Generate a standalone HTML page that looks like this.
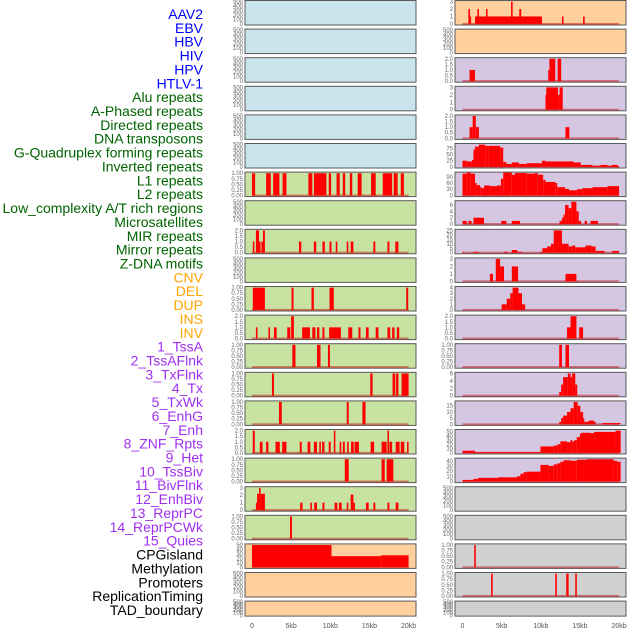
<!DOCTYPE html>
<html><head><meta charset="utf-8"><style>
html,body{margin:0;padding:0;background:#fff;width:630px;height:630px;overflow:hidden}
svg{display:block}
</style></head><body>
<svg id="chart" width="630" height="630" viewBox="0 0 630 630" xmlns="http://www.w3.org/2000/svg"></svg>
<script>
// ---- labels ----
const trackLabels = ["AAV2","EBV","HBV","HIV","HPV","HTLV-1","Alu repeats","A-Phased repeats","Directed repeats","DNA transposons","G-Quadruplex forming repeats","Inverted repeats","L1 repeats","L2 repeats","Low_complexity A/T rich regions","Microsatellites","MIR repeats","Mirror repeats","Z-DNA motifs","CNV","DEL","DUP","INS","INV","1_TssA","2_TssAFlnk","3_TxFlnk","4_Tx","5_TxWk","6_EnhG","7_Enh","8_ZNF_Rpts","9_Het","10_TssBiv","11_BivFlnk","12_EnhBiv","13_ReprPC","14_ReprPCWk","15_Quies","CPGisland","Methylation","Promoters","ReplicationTiming","TAD_boundary"];
const labelColors = ["#0000ff","#0000ff","#0000ff","#0000ff","#0000ff","#0000ff","#006400","#006400","#006400","#006400","#006400","#006400","#006400","#006400","#006400","#006400","#006400","#006400","#006400","#ffa500","#ffa500","#ffa500","#ffa500","#ffa500","#a030f0","#a030f0","#a030f0","#a030f0","#a030f0","#a030f0","#a030f0","#a030f0","#a030f0","#a030f0","#a030f0","#a030f0","#a030f0","#a030f0","#a030f0","#000","#000","#000","#000","#000"];
const xTicks = [0,5,10,15,20];
const xTickLabels = ["0","5kb","10kb","15kb","20kb"];

// ---- panel backgrounds ----
const leftBg = ["b","b","b","b","b","b","g","g","g","g","g","g","g","g","g","g","g","g","g","o","o","o"];
const rightBg = ["o","o","p","p","p","p","p","p","p","p","p","p","p","p","p","p","p","y","y","y","y","y"];
// axis max per panel (0 = empty panel, axis 0..500)
const leftMax = [0,0,0,0,0,0,1,0,2,0,1,2,1,1,1,2,1,3,1,50,0,0];
const rightMax = [3,0,2,3,2,90,107,7,25,3,4,2,1,6,18,52,43,0,0,1,1,0];
const leftTickStep = [100,100,100,100,100,100,0.25,100,0.5,100,0.25,0.5,0.25,0.25,0.25,0.5,0.25,1,0.25,10,100,100];
const rightTickStep = [1,100,0.5,1,0.5,25,30,2,5,1,1,0.5,0.25,2,5,10,10,100,100,0.25,0.25,100];

// ---- left column bars [startKb, endKb, value] ----
const L06 = [[0,0.4,1],[1.8,2.4,1],[2.7,3.5,1],[3.9,4.4,1],[7.2,7.7,1],[7.9,9.5,1],[9.8,10.1,1],[10.8,11.2,1],[11.6,11.9,1],[12.5,12.8,1],[13.5,14.0,1],[15.2,15.8,1],[16.7,17.9,1],[18.1,18.6,1],[19.0,19.4,1]];
const L08 = [[0.1,0.3,1],[0.5,0.9,2],[0.9,1.1,1],[1.2,1.4,1],[1.4,1.65,2],[6.0,6.3,1],[7.9,8.2,1],[9.0,9.3,1],[9.9,10.15,1],[10.7,10.9,1],[12.1,12.3,1],[12.6,12.95,1],[15.5,15.75,1],[17.3,17.55,1],[18.3,18.7,1]];
const L10 = [[0.1,1.65,1],[5.05,5.3,1],[7.6,7.9,1],[9.9,10.45,1],[19.7,19.95,1]];
const L11 = [[0.5,0.7,1],[2.1,2.3,1],[2.8,3.15,1],[4.5,4.9,1],[5.0,5.35,2],[6.4,7.4,1],[7.7,8.1,1],[8.3,8.6,1],[9.0,9.25,1],[9.85,11.35,1],[12.3,12.8,1],[13.6,13.85,1],[14.55,14.9,1],[15.8,16.15,1],[17.3,17.65,1],[17.9,18.2,1],[18.5,18.8,1]];
const L12 = [[5.15,5.55,1],[8.3,8.75,1],[9.7,9.95,1]];
const L13 = [[2.55,2.8,1],[15.1,15.4,1],[17.95,18.3,1],[18.4,18.7,1],[19.1,20.0,1]];
const L14 = [[3.45,3.8,1],[12.1,12.35,1],[14.1,14.5,1]];
const L15 = [[0.1,0.35,2],[1.0,1.35,1],[1.8,2.1,1],[3.0,3.55,1],[3.85,4.4,1],[6.1,6.35,1],[7.1,7.45,1],[7.9,8.3,1],[8.6,8.8,1],[8.95,9.25,1],[9.8,10.05,1],[10.45,10.65,2],[11.2,11.4,1],[11.6,11.85,1],[12.15,12.35,1],[12.65,13.0,1],[13.1,13.65,1],[15.15,15.6,1],[16.55,17.2,1],[17.3,17.5,2],[17.55,17.9,1],[18.35,18.85,1],[19.0,19.45,1],[19.8,20.0,1]];
const L16 = [[11.85,12.35,1],[16.55,16.95,1],[17.2,18.05,1]];
const L17 = [[0.5,0.65,1],[0.65,0.9,2.2],[0.9,1.1,3],[1.1,1.65,2.2],[6.15,6.45,1],[7.45,7.65,1],[7.95,8.3,1],[9.0,9.25,1],[10.55,10.9,1],[11.1,11.45,1],[12.1,12.3,1],[12.6,12.95,2.1],[12.95,13.15,1],[14.55,14.9,1],[15.5,15.75,1],[17.3,17.55,1],[18.35,18.7,1]];
const L18 = [[4.85,5.1,1]];
const L19 = [[0,10.15,50],[10.15,16.5,25],[16.5,20,27]];
const leftBars = [[],[],[],[],[],[],L06,[],L08,[],L10,L11,L12,L13,L14,L15,L16,L17,L18,L19,[],[]];

// ---- right column bars ----
const R00 = [[0.75,0.96,2],[0.96,1.1,1],[1.6,10.15,1],[1.9,2.1,2],[3.0,3.2,2],[6.2,6.4,3],[7.25,7.5,2],[12.7,12.9,1],[15.4,15.6,1]];
const R02 = [[0.9,1.6,1],[10.95,11.1,1],[11.1,11.85,2],[12.15,12.6,2]];
const R03 = [[10.6,10.7,2],[10.7,12.2,3],[12.2,12.4,2],[12.4,12.8,3]];
const R04 = [[0.9,1.3,1],[1.3,1.7,2],[1.7,2.1,1],[13.15,13.65,1]];
const R05 = [[0,0.55,25],[0.55,1.2,22],[1.2,1.4,28],[1.4,1.6,70],[1.6,2.1,82],[2.1,2.9,90],[2.9,3.3,85],[3.3,4.8,85],[4.8,5.2,78],[5.2,5.6,20],[5.6,6.3,12],[6.3,7.2,18],[7.2,8.2,12],[8.2,10.15,15],[10.15,10.6,25],[10.6,14.2,22],[14.2,15.1,18],[15.1,16.6,8],[16.6,17.6,5],[17.6,18.5,8],[18.5,19.1,5],[19.1,19.8,8],[19.8,20,4]];
const R06 = [[0,0.55,105],[0.55,1.05,110],[1.05,1.6,105],[1.6,1.8,60],[1.8,2.25,50],[2.25,2.45,40],[2.45,2.75,35],[2.75,3.5,48],[3.5,4.4,45],[4.4,4.9,48],[4.9,5.2,80],[5.2,6.3,110],[6.3,6.7,100],[6.7,8.2,108],[8.2,9.2,105],[9.2,9.6,108],[9.6,10.3,100],[10.3,10.6,75],[10.6,11.85,65],[11.85,12.1,60],[12.1,13.1,40],[13.1,13.6,32],[13.6,14.6,25],[14.6,15.3,30],[15.3,16.6,35],[16.6,18.5,40],[18.5,20,45]];
const R07 = [[0,0.55,1],[0.75,1.15,1],[1.4,2.75,2],[4.95,5.6,1],[6.3,7.35,1],[12.4,12.7,1],[12.7,12.9,2],[12.9,13.1,3],[13.1,13.55,6],[13.55,13.9,5],[13.9,14.55,7],[14.55,14.85,4],[14.85,15.15,1],[15.6,15.9,1],[16.35,17.3,1]];
const R08 = [[0,0.2,1],[1.4,2.1,1],[5.3,5.75,1],[6.3,7.0,3],[7.0,7.6,1],[9.95,10.2,1],[10.2,10.8,5],[10.8,11.3,7],[11.3,11.65,10],[11.65,12.7,25],[12.7,13.55,10],[13.55,14.0,7],[14.0,14.4,8],[14.4,15.7,6],[15.7,16.5,8],[16.5,17.0,7],[17.0,18.15,2],[19.1,20,2]];
const R09 = [[3.5,3.9,1],[4.25,4.8,3],[4.8,5.3,2],[6.3,7.1,2],[13.15,14.55,1]];
const R10 = [[5.0,5.65,1],[5.65,6.1,2],[6.1,6.4,3],[6.4,7.15,4],[7.15,7.6,3],[7.6,8.0,1]];
const R11 = [[13.35,13.8,1],[13.8,14.55,2],[14.9,15.4,1]];
const R12 = [[12.35,12.7,1],[13.15,13.6,1]];
const R13 = [[12.35,12.6,1],[12.6,12.85,3],[12.85,13.45,5],[13.45,13.8,6],[13.8,14.0,5],[14.0,14.4,6],[14.4,14.65,3]];
const R14 = [[12.35,12.6,2],[12.6,12.85,5],[12.85,13.35,7],[13.35,13.8,10],[13.8,14.2,13],[14.2,14.7,18],[14.7,15.05,15],[15.05,15.4,10],[15.4,15.55,5],[15.55,16.1,2],[16.1,16.8,3],[16.8,17.0,2],[17.85,20.2,1]];
const R15 = [[0,1.6,5],[1.6,9.95,2],[9.95,11.65,15],[11.65,12.1,17],[12.1,12.5,20],[12.5,13.35,27],[13.35,13.8,25],[13.8,14.0,30],[14.0,14.3,27],[14.3,14.6,30],[14.6,15.0,37],[15.0,15.2,45],[15.2,16.35,47],[16.35,16.8,46],[16.8,19.55,49],[19.55,20.2,52]];
const R16 = [[0,1.4,3],[1.4,2.0,5],[2.0,4.6,7],[4.6,6.95,8],[6.95,7.4,10],[7.4,7.8,15],[7.8,8.2,18],[8.2,9.95,19],[9.95,11.0,32],[11.0,11.65,30],[11.65,12.1,33],[12.1,12.5,35],[12.5,12.9,38],[12.9,13.8,41],[13.8,14.6,40],[14.6,15.9,42],[15.9,19.3,43],[19.3,19.75,40],[19.75,20.2,38]];
const R19 = [[1.5,1.7,1]];
const R20 = [[3.65,3.85,1],[11.85,12.05,1],[13.25,13.55,1],[14.4,14.6,1]];
const rightBars = [R00,[],R02,R03,R04,R05,R06,R07,R08,R09,R10,R11,R12,R13,R14,R15,R16,[],[],R19,R20,[]];

// ---- drawing ----
const NS = "http://www.w3.org/2000/svg";
const svg = document.getElementById("chart");
const bgColors = {b:"#c9e4ec", g:"#c8e2a2", o:"#ffd09e", p:"#d5c6e2", y:"#d0d0d0"};
function mk(tag, attrs, parent){
  const e = document.createElementNS(NS, tag);
  for (const k in attrs) e.setAttribute(k, attrs[k]);
  (parent||svg).appendChild(e);
  return e;
}
// labels
trackLabels.forEach((t,i)=>{
  const el = mk("text",{x:203,y:19+i*13.86,"text-anchor":"end","font-family":"Liberation Sans, sans-serif","font-size":"14",fill:labelColors[i]});
  el.textContent = t;
  
  
});
const cols = [
  {px:245, pw:171, x0:252, bg:leftBg, max:leftMax, step:leftTickStep, bars:leftBars, name:"left"},
  {px:455, pw:171, x0:462.5, bg:rightBg, max:rightMax, step:rightTickStep, bars:rightBars, name:"right"}
];
const kbPx = 7.83;
function fmt(v, step){
  if (step===0.25) return v.toFixed(2);
  if (step===0.5) return v.toFixed(1);
  return String(Math.round(v));
}
cols.forEach(c=>{
  const xScale = kb => c.x0 + kb*kbPx;
  for (let r=0; r<22; r++){
    const top = 0.5 + r*28.6;
    const h = r===21 ? 15 : 24.5;
    const g = mk("g",{});
    
    
    const clipId = "clip-"+c.name+"-"+r;
    const cp = mk("clipPath",{id:clipId}, g);
    mk("rect",{x:c.px,y:top,width:c.pw,height:h},cp);
    const bg = mk("rect",{x:c.px,y:top,width:c.pw,height:h,fill:bgColors[c.bg[r]],stroke:"#5a5a5a","stroke-width":"1"},g);
    
    
    const m = c.max[r] || 500;
    const yScale = v => top + h - ((v + 0.05*m)/(1.1*m))*h;
    // ticks
    const step = c.step[r];
    for (let v=0; v<=m+1e-9; v+=step){
      const tl = mk("text",{x:c.px-2,y:yScale(v)+2,"text-anchor":"end","font-family":"Liberation Sans, sans-serif","font-size":"6",fill:"#666"},g);
      tl.textContent = fmt(v, step);
      
      
    }
    const bars = mk("g",{"clip-path":"url(#"+clipId+")"},g);
    if (c.max[r]){
      const base = mk("rect",{x:xScale(0),y:yScale(0)-1,width:xScale(20)-xScale(0),height:2,fill:"rgba(190,0,0,0.45)"},bars);
      
      
    }
    c.bars[r].forEach(b=>{
      const y1 = yScale(b[2]), y0 = yScale(0);
      const rc = mk("rect",{x:xScale(b[0]),y:y1,width:Math.max(1,xScale(b[1])-xScale(b[0])),height:y0-y1,fill:"#ff0000"},bars);
      
      
    });
  }
  xTicks.forEach((t,i)=>{
    const tl = mk("text",{x:xScale(t),y:628,"text-anchor":"middle","font-family":"Liberation Sans, sans-serif","font-size":"7",fill:"#555"});
    tl.textContent = xTickLabels[i];
    
    
  });
});
</script>
</body></html>
